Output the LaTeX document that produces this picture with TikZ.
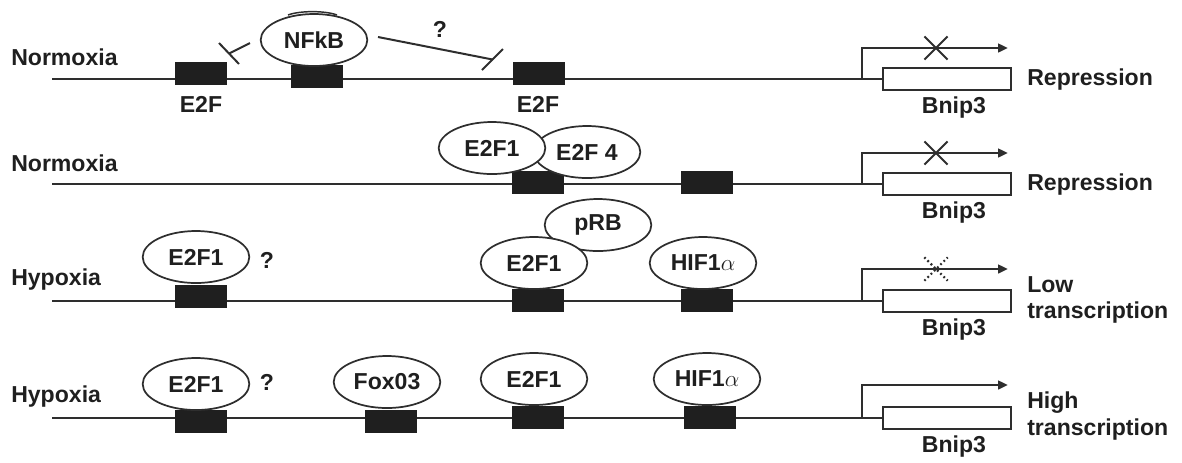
\documentclass[tikz,border=0pt]{standalone}
\usepackage{fontspec}
\setmainfont{Liberation Sans}
\usetikzlibrary{shapes.geometric,shapes.misc,arrows.meta}
\newcommand\dtxt{\fontsize{17.3}{20}\selectfont\bfseries}
\begin{document}
\begin{tikzpicture}[x=0.75pt,y=-0.75pt,
  ink/.style={draw=black!82},
  gene/.style={ink, line width=1.8pt},
  site/.style={rectangle, fill=black!88, draw=black!88, line width=0.5pt,
    minimum width=38pt, minimum height=16.5pt, inner sep=0pt},
  prot/.style={ellipse, ink, fill=white, line width=1.3pt, minimum width=80pt,
    minimum height=39pt, inner sep=0pt, font=\dtxt, text=black!88},
  lbl/.style={font=\dtxt, text=black!88, inner sep=0pt},
  bnipbox/.style={rectangle, ink, fill=white, line width=1.5pt,
    minimum width=96pt, minimum height=16.5pt, inner sep=0pt},
  xmark/.style={cross out, ink, line width=1.4pt, minimum size=16pt, inner sep=0pt},
  inh/.style={ink, line width=1.5pt}
]
\useasboundingbox (0,0) rectangle (1182,462);

% gene lines, promoters and Bnip3 boxes
\foreach \r/\L/\A in {1/79/48,2/184/153,3/301/269,4/418/385}{
  \coordinate (s\r) at (52,\L);
  \coordinate (h\r) at (862,\L);
  \coordinate (e\r) at (1008,\A);
  \node[bnipbox] (bn\r) at (947,\L) {};
  \draw[gene] (s\r) -- (h\r);
  \draw[gene] (h\r) -- (bn\r.west);
  \draw[gene, -{Triangle[length=7.5pt,width=6.5pt]}] (h\r) |- (e\r);
  \node[lbl] (bl\r) at (954,\L+29) {Bnip3};
}

% row labels
\node[lbl, anchor=west] (r1) at (11,57) {Normoxia};
\node[lbl, anchor=west] (r2) at (11,163) {Normoxia};
\node[lbl, anchor=west] (r3) at (11,280) {Hypoxia};
\node[lbl, anchor=west] (r4) at (11,397) {Hypoxia};

% outcome labels
\node[lbl, anchor=west] (o1) at (1027,80) {Repression};
\node[lbl, anchor=west] (o2) at (1027,185) {Repression};
\node[lbl, anchor=west] (o3a) at (1027,285) {Low};
\node[lbl, anchor=west] (o3b) at (1027,313) {transcription};
\node[lbl, anchor=west] (o4a) at (1027,403) {High};
\node[lbl, anchor=west] (o4b) at (1027,430) {transcription};

% crosses on transcription arrows
\node[xmark] (x1) at (936,48) {};
\node[xmark] (x2) at (936,153) {};
\node[xmark, dotted, line width=1.6pt] (x3) at (936,269) {};

% ---- row 1 ----
\node[site] (b11) at (200.5,73.5) {};
\node[site] (b12) at (316.5,76.5) {};
\node[site] (b13) at (538.5,73) {};
\node[lbl] (l11) at (201,104) {E2F};
\node[lbl] (l13) at (538,104) {E2F};
\node[prot] (nfkb) at (314,40) {NFkB};
\draw[ink, line width=1.1pt] (288,15) .. controls (300,10.5) and (325,10.5) .. (337,15);
\node[lbl] (q1) at (440,29) {?};
\coordinate (t1a) at (250,43);
\coordinate (t1b) at (229,53.5);
\coordinate (t1c) at (219,43);
\coordinate (t1d) at (239,64);
\draw[inh] (t1a) -- (t1b);
\draw[inh] (t1c) -- (t1d);
\coordinate (t2a) at (378,37);
\coordinate (t2b) at (492.5,59.5);
\coordinate (t2c) at (503,49);
\coordinate (t2d) at (482,70);
\draw[inh] (t2a) -- (t2b);
\draw[inh] (t2c) -- (t2d);

% ---- row 2 ----
\node[site] (b21) at (538,182.5) {};
\node[site] (b22) at (706.5,182.5) {};
\node[prot] (e2f4) at (587,152) {E2F 4};
\node[prot] (e2f1b) at (492,148) {E2F1};

% ---- row 3 ----
\node[site] (b31) at (201,296.5) {};
\node[site] (b32) at (537.5,300) {};
\node[site] (b33) at (706.5,300) {};
\node[prot] (p31) at (196,257) {E2F1};
\node[lbl] (q3) at (267,260) {?};
\node[prot] (prb) at (598,225) {pRB};
\node[prot] (p32) at (534,263) {E2F1};
\node[prot] (p33) at (703,263) {HIF1$\alpha$};

% ---- row 4 ----
\node[site] (b41) at (201,421.5) {};
\node[site] (b42) at (390.5,421.5) {};
\node[site] (b43) at (537.5,417.5) {};
\node[site] (b44) at (710,417.5) {};
\node[prot] (p41) at (196,384) {E2F1};
\node[lbl] (q4) at (267,382) {?};
\node[prot] (p42) at (387,382) {Fox03};
\node[prot] (p43) at (534,379) {E2F1};
\node[prot] (p44) at (707,379) {HIF1$\alpha$};
\end{tikzpicture}
\end{document}
